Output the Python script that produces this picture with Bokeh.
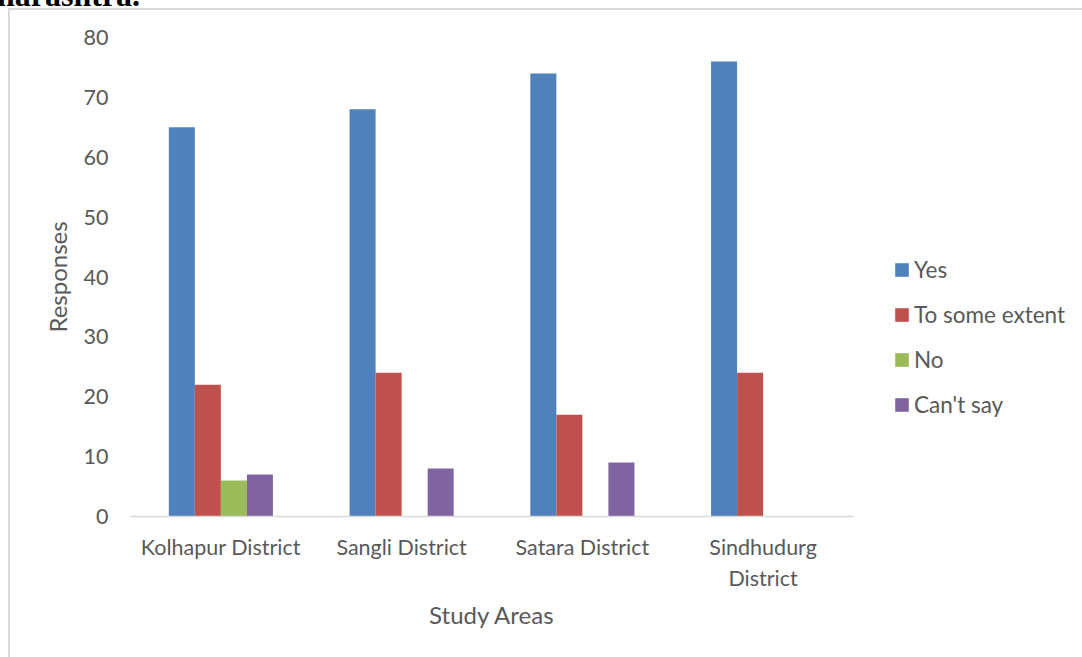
from bokeh.plotting import figure
from bokeh.models import (FactorRange, ColumnDataSource, Legend, LegendItem, Div, FixedTicker)
from bokeh.layouts import column, row
from bokeh.transform import dodge
from bokeh.embed import file_html
from bokeh.resources import INLINE

districts = ["Kolhapur District", "Sangli District", "Satara District", "Sindhudurg\nDistrict"]
yes = [65, 68, 74, 76]
some_extent = [22, 24, 17, 24]
no = [6, 0, 0, 0]
cant_say = [7, 8, 9, 0]
series_names = ["Yes", "To some extent", "No", "Can't say"]
colors = ["#4f81bd", "#c0504d", "#9bbb59", "#8064a2"]
y_ticks = [0, 10, 20, 30, 40, 50, 60, 70, 80]
caption = "harashtra."

FONT = "Lato"
TXT = "#595959"
OFF = 10          # chart box starts 10px into the page (border)
CHART_W = 875     # chart canvas width
H = 657 - OFF

src = ColumnDataSource(dict(x=districts, yes=yes, some=some_extent, no=no, cant=cant_say))

p = figure(width=CHART_W, height=H,
           x_range=FactorRange(factors=districts, range_padding=0),
           y_range=(0, 80), output_backend="svg", toolbar_location=None,
           min_border_left=130 - OFF, min_border_right=CHART_W + OFF - 853,
           min_border_top=37 - OFF, min_border_bottom=657 - 516)
p.outline_line_color = None
p.xgrid.grid_line_color = None
p.ygrid.grid_line_color = None
p.background_fill_color = "white"
p.border_fill_color = "white"

w = 0.144
offs = [-0.216, -0.072, 0.072, 0.216]
cols = ["yes", "some", "no", "cant"]
for c, o, col in zip(cols, offs, colors):
    p.vbar(x=dodge("x", o, range=p.x_range), top=c, width=w, source=src,
           fill_color=col, line_color=None)

p.yaxis.ticker = FixedTicker(ticks=y_ticks)
p.yaxis.axis_line_color = None
p.yaxis.major_tick_line_color = None
p.yaxis.minor_tick_line_color = None
p.yaxis.major_label_standoff = 16
p.yaxis.major_label_text_font = FONT
p.yaxis.major_label_text_font_size = "21.5px"
p.yaxis.major_label_text_color = TXT
p.yaxis.axis_label = "Responses"
p.yaxis.axis_label_text_font = FONT
p.yaxis.axis_label_text_font_size = "24px"
p.yaxis.axis_label_text_font_style = "normal"
p.yaxis.axis_label_text_color = TXT
p.yaxis.axis_label_standoff = 9

p.xaxis.axis_line_color = "#d9d9d9"
p.xaxis.axis_line_width = 1.5
p.xaxis.major_tick_line_color = None
p.xaxis.minor_tick_line_color = None
p.xaxis.major_label_standoff = 11
p.xaxis.major_label_text_font = FONT
p.xaxis.major_label_text_font_size = "21.5px"
p.xaxis.major_label_text_color = TXT
p.xaxis.axis_label = "Study Areas"
p.xaxis.axis_label_text_font = FONT
p.xaxis.axis_label_text_font_size = "24px"
p.xaxis.axis_label_text_font_style = "normal"
p.xaxis.axis_label_text_color = TXT
p.xaxis.axis_label_standoff = 6

# legend panel to the right of the chart (its frame is aligned with the chart's frame)
LW = 1082 - OFF - CHART_W
p2 = figure(width=LW, height=H, x_range=(0, 1), y_range=(0, 1), output_backend="svg",
            toolbar_location=None, x_axis_location=None, y_axis_location=None, min_border=0)
p2.outline_line_color = None
p2.grid.visible = False
p2.border_fill_color = "white"
p2.background_fill_color = "white"
swatches = [p2.vbar(x=[0.5], top=[0], bottom=[0], width=0.1, fill_color=col, line_color=None)
            for col in colors]
legend = Legend(items=[LegendItem(label=n, renderers=[r]) for n, r in zip(series_names, swatches)],
                location=(893 - OFF - CHART_W, 98.5), glyph_width=17, glyph_height=17,
                label_standoff=4, spacing=18, padding=0, margin=0, border_line_color=None,
                background_fill_alpha=0, label_text_font=FONT, label_text_font_size="22.5px",
                label_text_color=TXT, label_height=22)
p2.add_layout(legend, "center")

chart = row(p, p2, spacing=0,
            styles={"border-left": "2px solid #d9d9d9", "border-top": "2px solid #d9d9d9",
                    "margin-left": "8px"})

cap = Div(text=('<div style="position:absolute; left:-3px; top:-21px; white-space:nowrap; '
                'font-family:\'Liberation Serif\'; font-weight:bold; font-size:32px; '
                'line-height:32px; color:black;">' + caption + '</div>'),
          width=1082, height=8, margin=0, styles={"position": "relative", "overflow": "visible"})

root = column(cap, chart, spacing=0)
open("out.html", "w").write(file_html(root, INLINE))
